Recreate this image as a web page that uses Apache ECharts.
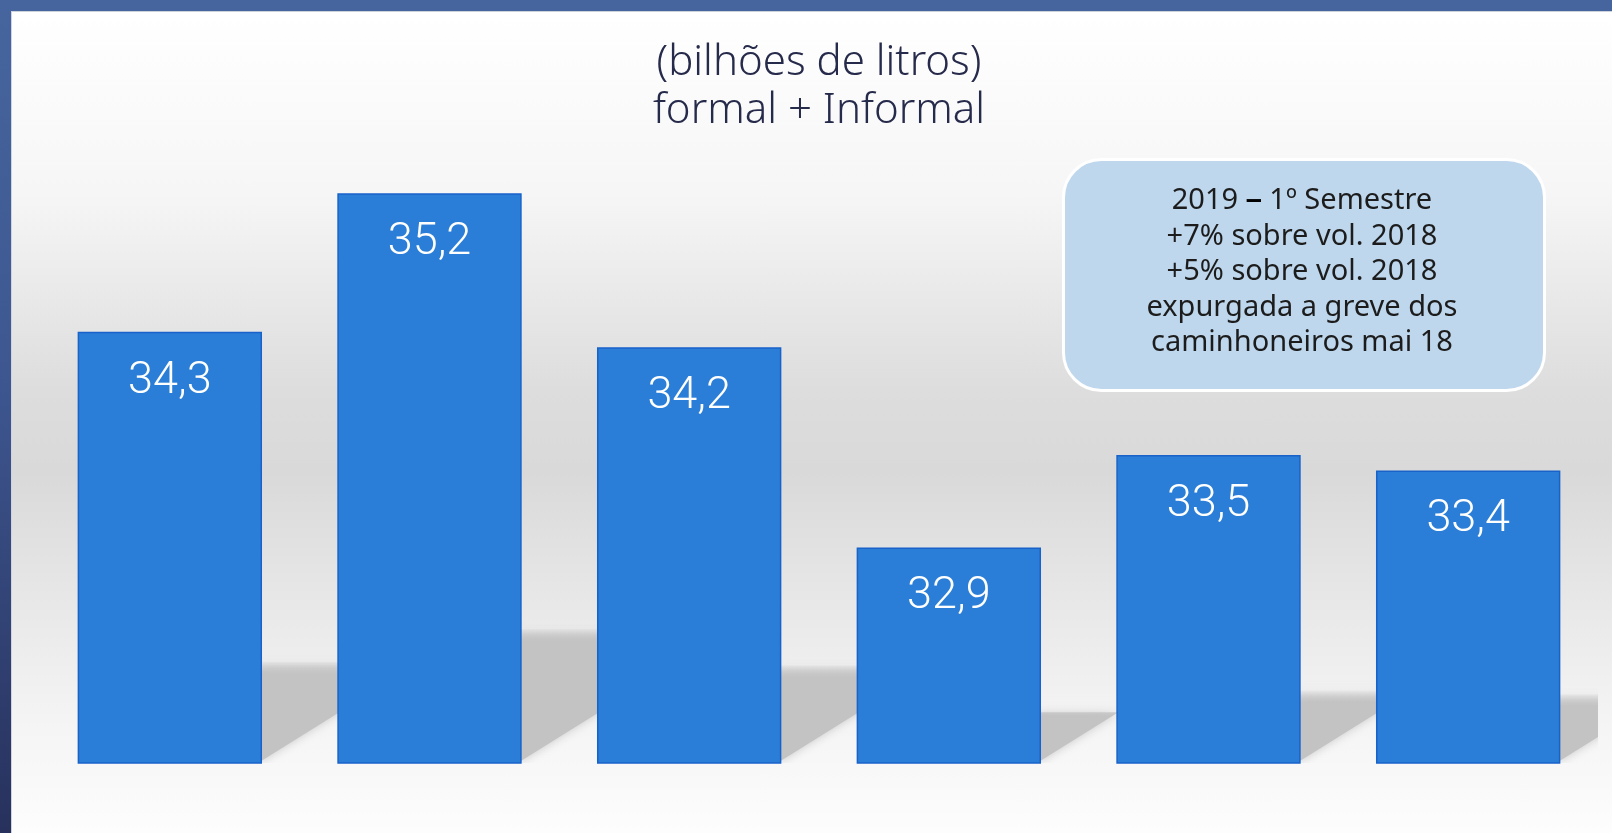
<!DOCTYPE html>
<html>
<head>
<meta charset="utf-8">
<title>bilhões de litros</title>
<script src="https://cdn.jsdelivr.net/npm/echarts@6/dist/echarts.min.js"></script>
<style>
  html, body {
    margin: 0;
    padding: 0;
    width: 1612px;
    height: 833px;
    overflow: hidden;
  }
  .frame {
    position: relative;
    width: 1612px;
    height: 833px;
    background: linear-gradient(180deg, #46659e 0%, #3e5791 45%, #27315c 100%);
  }
  #chart {
    position: absolute;
    left: 11px;
    top: 11px;
    width: 1601px;
    height: 822px;
    border-left: 1px solid #cfd4dc;
    border-top: 1px solid #cfd4dc;
    box-sizing: border-box;
    background: linear-gradient(180deg, #ffffff 0%, #f6f6f6 22%, #dddddd 46%, #d9d9d9 56%, #e6e6e6 70%, #f4f4f4 86%, #fdfdfd 100%);
  }
</style>
</head>
<body>
<div class="frame">
  <div id="chart"></div>
</div>
<script>
// categorias (sem rótulos visíveis no gráfico original)
const categories = ['2014', '2015', '2016', '2017', '2018', '2019'];
const volumes = [34.3, 35.2, 34.2, 32.9, 33.5, 33.4];

const titleLines = ['(bilhões de litros)', 'formal + Informal'];
const noteLines = [
  '2019 {b|–} 1º Semestre',
  '+7% sobre vol. 2018',
  '+5% sobre vol. 2018',
  'expurgada a greve dos',
  'caminhoneiros mai 18'
];

const Y_MIN = 31.5;
const Y_MAX = 36;

const chart = echarts.init(document.getElementById('chart'));

// sombra "em perspectiva" atrás de cada barra
function renderShadow(params, api) {
  const idx = api.value(0);
  const top = api.coord([idx, api.value(1)]);
  const base = api.coord([idx, Y_MIN]);
  const halfBar = api.size([1, 0])[0] * 0.71 / 2;
  const right = base[0] + halfBar;
  const bottom = base[1];
  const h = (bottom - top[1]) * 0.235;
  const topY = bottom - h;
  const D = 95;
  const slope = 0.65;
  const fade = Math.min(0.9, 12 / h);
  return {
    type: 'polygon',
    shape: {
      points: [
        [right - 4, topY],
        [right + D, topY],
        [right + D, bottom - slope * D],
        [right - 4, bottom]
      ]
    },
    style: {
      fill: new echarts.graphic.LinearGradient(0, 0, 0, 1, [
        { offset: 0, color: 'rgba(196,196,196,0.15)' },
        { offset: fade, color: '#c3c3c3' },
        { offset: 1, color: '#c3c3c3' }
      ]),
      shadowBlur: 10,
      shadowColor: 'rgba(190,190,190,0.8)'
    }
  };
}

const option = {
  animation: false,
  title: {
    text: titleLines.join('\n'),
    left: 802,
    top: 22,
    textAlign: 'center',
    textStyle: {
      fontFamily: '"Noto Sans", Lato, sans-serif',
      fontWeight: 300,
      fontSize: 42,
      lineHeight: 48,
      color: '#272b4b'
    }
  },
  grid: { left: 28, right: 14, top: 58, bottom: 70 },
  xAxis: {
    type: 'category',
    data: categories,
    show: false
  },
  yAxis: {
    type: 'value',
    min: Y_MIN,
    max: Y_MAX,
    show: false,
    splitLine: { show: false }
  },
  graphic: [
    {
      type: 'rect',
      left: 1050,
      top: 146,
      shape: { width: 481, height: 231, r: 38 },
      style: { fill: '#bed7ed', stroke: '#ffffff', lineWidth: 3 },
      z: 10
    },
    {
      type: 'text',
      x: 1290,
      y: 171,
      style: {
        text: noteLines.join('\n'),
        align: 'center',
        verticalAlign: 'top',
        fontFamily: '"Noto Sans", Lato, sans-serif',
        fontSize: 29,
        lineHeight: 35.5,
        fill: '#1c1c1c',
        rich: {
          b: { fontWeight: 'bold', fontSize: 29, fill: '#000' }
        }
      },
      z: 11
    }
  ],
  series: [
    {
      type: 'custom',
      renderItem: renderShadow,
      data: volumes.map((v, i) => [i, v]),
      clip: true,
      silent: true,
      z: 1
    },
    {
      type: 'bar',
      data: volumes,
      barWidth: '71%',
      itemStyle: {
        color: '#2a7ed7',
        borderColor: '#1862ca',
        borderWidth: 1.5
      },
      label: {
        show: true,
        position: 'insideTop',
        distance: 27,
        color: '#ffffff',
        fontFamily: 'Roboto, "Noto Sans", sans-serif',
        fontWeight: 300,
        fontSize: 45,
        formatter: (p) => p.value.toFixed(1).replace('.', ',')
      },
      z: 2
    }
  ]
};

chart.setOption(option);
</script>
</body>
</html>
